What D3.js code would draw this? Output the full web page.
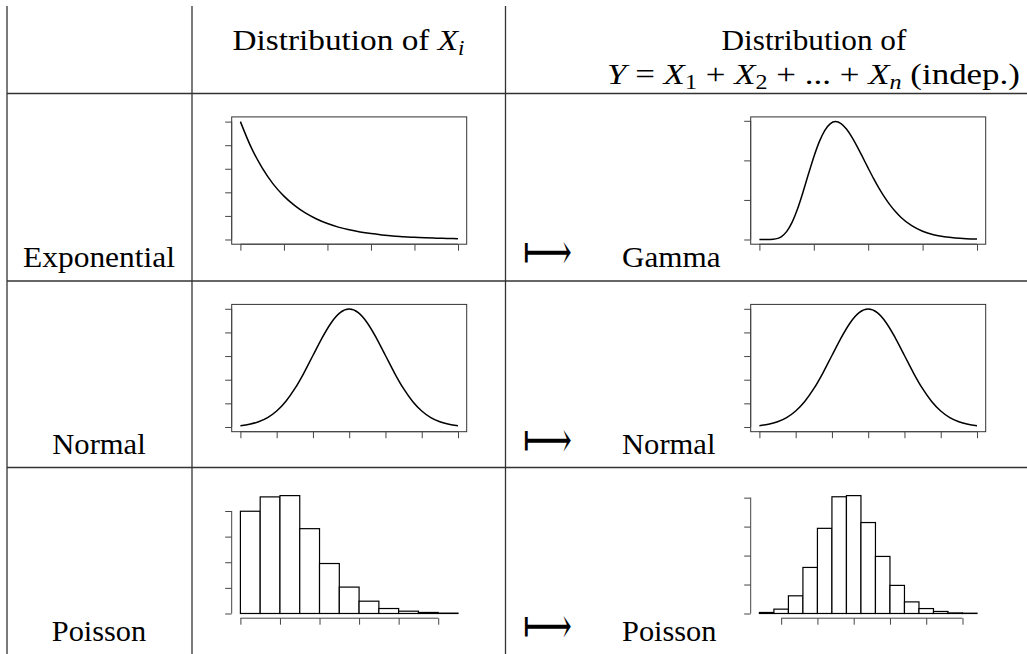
<!DOCTYPE html>
<html><head><meta charset="utf-8">
<script src="https://cdn.jsdelivr.net/npm/d3@7"></script>
<style>body{margin:0;background:#fff}</style>
</head><body>
<svg id="c" width="1027" height="654" font-family="Liberation Serif"></svg>
<script>
// ---- data ----
const rowLabels = ["Exponential", "Normal", "Poisson"];
const sumLabels = ["Gamma", "Normal", "Poisson"];

const expX = [0,0.25,0.5,0.75,1,1.25,1.5,1.75,2,2.25,2.5,2.75,3,3.25,3.5,3.75,4,4.25,4.5,4.75,5];
const expY = [1.000,0.779,0.607,0.472,0.368,0.287,0.223,0.174,0.135,0.105,0.082,0.064,0.050,0.039,0.030,0.024,0.018,0.014,0.011,0.009,0.007];
const expXTicks = [0,1,2,3,4,5];
const expYTicks = [0,0.2,0.4,0.6,0.8,1.0];

const normX = [-3,-2.75,-2.5,-2.25,-2,-1.75,-1.5,-1.25,-1,-0.75,-0.5,-0.25,0,0.25,0.5,0.75,1,1.25,1.5,1.75,2,2.25,2.5,2.75,3];
const normY = [0.0044,0.0091,0.0175,0.0317,0.0540,0.0863,0.1295,0.1826,0.2420,0.3011,0.3521,0.3867,0.3989,0.3867,0.3521,0.3011,0.2420,0.1826,0.1295,0.0863,0.0540,0.0317,0.0175,0.0091,0.0044];
const normXTicks = [-3,-2,-1,0,1,2,3];
const normYTicks = [0,0.08,0.16,0.24,0.32,0.40];

const gammaX = [0,0.5,1,1.5,2,2.5,3,3.5,4,4.5,5,5.5,6,6.5,7,7.5,8,8.5,9,9.5,10,10.5,11,11.5,12,12.5,13,14,15,16,17,18,19,20];
const gammaY = [0,0.000001,0.000073,0.000756,0.00344,0.00994,0.0216,0.0385,0.0595,0.0824,0.1044,0.1234,0.1377,0.1462,0.1490,0.1465,0.1396,0.1294,0.1171,0.1037,0.0901,0.0769,0.0646,0.0535,0.0437,0.0353,0.0281,0.0174,0.0104,0.0060,0.00337,0.00185,0.00099,0.00052];
const gammaXTicks = [0,5,10,15,20];
const gammaYTicks = [0,0.05,0.10,0.15];

const pois1Breaks = [0,1,2,3,4,5,6,7,8,9,10,11];
const pois1Dens = [0.1995,0.2275,0.230,0.1655,0.0975,0.0515,0.024,0.0097,0.0045,0.002,0.0007];
const pois1XTicks = [0,2,4,6,8,10];
const pois1YTicks = [0,0.05,0.10,0.15,0.20];

const pois2Breaks = [12,14,16,18,20,22,24,26,28,30,32,34,36,38,40,42];
const pois2Dens = [0.0007,0.003,0.0122,0.0318,0.0588,0.0806,0.0814,0.0628,0.0394,0.0194,0.008,0.0034,0.0014,0.0004,0.0002];
const pois2XTicks = [15,20,25,30,35,40];
const pois2YTicks = [0,0.02,0.04,0.06,0.08];

// ---- layout ----
const svg = d3.select("#c");
const rowTop = [93.5, 281, 467.5];
const plotOffset = 23.4, plotH = 127.3, plotW = 235;
const colPlotX = [231.7, 750.7];
const baselineOffset = 173.4;

// table rules
const rules = svg.append("g").attr("stroke", "#333").attr("stroke-width", 1.3);
[7, 192, 505.5].forEach(x => rules.append("line").attr("x1", x).attr("x2", x).attr("y1", 6).attr("y2", 654));
rowTop.forEach(y => rules.append("line").attr("x1", 7).attr("x2", 1027).attr("y1", y).attr("y2", y));

const textLayer = svg.append("g").attr("font-family", "Liberation Serif").attr("font-size", 29);
function txt(x, y) {
  return textLayer.append("text").attr("x", x).attr("y", y)
    .style("font-family", "Liberation Serif").style("font-size", "29px");
}
// horizontal stretch to reference width (Computer Modern is wider than Times)
const stretch = [];
function fit(sel, w, anchor) { stretch.push([sel, w, anchor]); }
function applyFit() {
  stretch.forEach(([sel, w, anchor]) => {
    const x = +sel.attr("x"), y = +sel.attr("y");
    const len = sel.node().getComputedTextLength();
    const left = anchor === "middle" ? x - w / 2 : x;
    sel.attr("x", 0).attr("y", 0)
      .attr("transform", `translate(${left},${y}) scale(${w / len},1)`);
  });
}

// header
const h1 = txt(348.5, 50);
h1.append("tspan").text("Distribution of ");
h1.append("tspan").style("font-style", "italic").text("X");
h1.append("tspan").style("font-style", "italic").style("font-size", "20px").attr("dy", 5).text("i");
fit(h1, 232, "middle");

const h2 = txt(814, 50).text("Distribution of");
fit(h2, 185, "middle");

const h3 = txt(813.5, 84);
function sub(t, s, italic) { t.append("tspan").style("font-size", "20px").attr("dy", 5).style("font-style", italic ? "italic" : "normal").text(s); }
h3.append("tspan").style("font-style", "italic").text("Y");
h3.append("tspan").text(" = ");
h3.append("tspan").style("font-style", "italic").text("X");
sub(h3, "1");
h3.append("tspan").attr("dy", -5).text(" + ");
h3.append("tspan").style("font-style", "italic").text("X");
sub(h3, "2");
h3.append("tspan").attr("dy", -5).text(" + ... + ");
h3.append("tspan").style("font-style", "italic").text("X");
sub(h3, "n", true);
h3.append("tspan").attr("dy", -5).text(" (indep.)");
fit(h3, 413, "middle");

// row labels and arrows
const rowW = [152, 93.5, 94.5];
const sumW = [98.7, 93.5, 94.5];
rowLabels.forEach((lab, i) => {
  const by = rowTop[i] + baselineOffset;
  fit(txt(99, by).text(lab), rowW[i], "middle");
  fit(txt(622, by).text(sumLabels[i]), sumW[i], "start");
  const a = textLayer.append("text").attr("x", 0).attr("y", 0)
    .style("font-family", "DejaVu Serif").style("font-size", "30px").text("\u27FC");
  const len = a.node().getComputedTextLength();
  a.attr("y", 0.31 * 30)
   .attr("transform", `translate(523,${by - 13.5}) scale(${49 / len},1.7)`);
});
applyFit();

// plotting helpers
function scales(x0, y0, xd, yd) {
  const rx = xd[1] - xd[0], ry = yd[1] - yd[0];
  const x = d3.scaleLinear().domain([xd[0] - 0.04 * rx, xd[1] + 0.04 * rx]).range([x0, x0 + plotW]);
  const y = d3.scaleLinear().domain([yd[0] - 0.04 * ry, yd[1] + 0.04 * ry]).range([y0 + plotH, y0]);
  return {x, y};
}
function axes(g, s, x0, y0, xTicks, yTicks) {
  const ax = g.append("g").attr("stroke", "#444").attr("stroke-width", 1).attr("fill", "none");
  const ya = ax.append("g").attr("transform", `translate(${x0},0)`)
    .call(d3.axisLeft(s.y).tickValues(yTicks).tickSize(6.5).tickSizeOuter(0).tickFormat(""));
  ya.select(".domain").remove();
  ya.selectAll("line").attr("stroke", "#444");
  ax.append("line").attr("x1", x0).attr("x2", x0)
    .attr("y1", s.y(yTicks[0])).attr("y2", s.y(yTicks[yTicks.length - 1]));
  const xa = ax.append("g").attr("transform", `translate(0,${y0 + plotH})`)
    .call(d3.axisBottom(s.x).tickValues(xTicks).tickSize(6.5).tickSizeOuter(0).tickFormat(""));
  xa.select(".domain").remove();
  xa.selectAll("line").attr("stroke", "#444");
  ax.append("line").attr("y1", y0 + plotH).attr("y2", y0 + plotH)
    .attr("x1", s.x(xTicks[0])).attr("x2", s.x(xTicks[xTicks.length - 1]));
}
function linePlot(x0, y0, xs, ys, xTicks, yTicks) {
  const g = svg.append("g");
  const s = scales(x0, y0, d3.extent(xs), [0, d3.max(ys)]);
  g.append("rect").attr("x", x0).attr("y", y0).attr("width", plotW).attr("height", plotH)
    .attr("fill", "none").attr("stroke", "#333").attr("stroke-width", 1);
  axes(g, s, x0, y0, xTicks, yTicks);
  const line = d3.line().x((d, i) => s.x(xs[i])).y(d => s.y(d)).curve(d3.curveMonotoneX);
  g.append("path").attr("d", line(ys)).attr("fill", "none").attr("stroke", "#000").attr("stroke-width", 1.5);
}
function histPlot(x0, y0, breaks, dens, xTicks, yTicks) {
  const g = svg.append("g");
  const s = scales(x0, y0, d3.extent(breaks), [0, d3.max(dens)]);
  axes(g, s, x0, y0, xTicks, yTicks);
  g.selectAll("rect.bar").data(dens).join("rect").attr("class", "bar")
    .attr("x", (d, i) => s.x(breaks[i])).attr("width", (d, i) => s.x(breaks[i + 1]) - s.x(breaks[i]))
    .attr("y", d => s.y(d)).attr("height", d => s.y(0) - s.y(d))
    .attr("fill", "#fff").attr("stroke", "#000").attr("stroke-width", 1.2);
}

linePlot(colPlotX[0], rowTop[0] + plotOffset, expX, expY, expXTicks, expYTicks);
linePlot(colPlotX[1], rowTop[0] + plotOffset, gammaX, gammaY, gammaXTicks, gammaYTicks);
linePlot(colPlotX[0], rowTop[1] + plotOffset, normX, normY, normXTicks, normYTicks);
linePlot(colPlotX[1], rowTop[1] + plotOffset, normX, normY, normXTicks, normYTicks);
histPlot(colPlotX[0], rowTop[2] + plotOffset, pois1Breaks, pois1Dens, pois1XTicks, pois1YTicks);
histPlot(colPlotX[1], rowTop[2] + plotOffset, pois2Breaks, pois2Dens, pois2XTicks, pois2YTicks);
</script>
</body></html>
